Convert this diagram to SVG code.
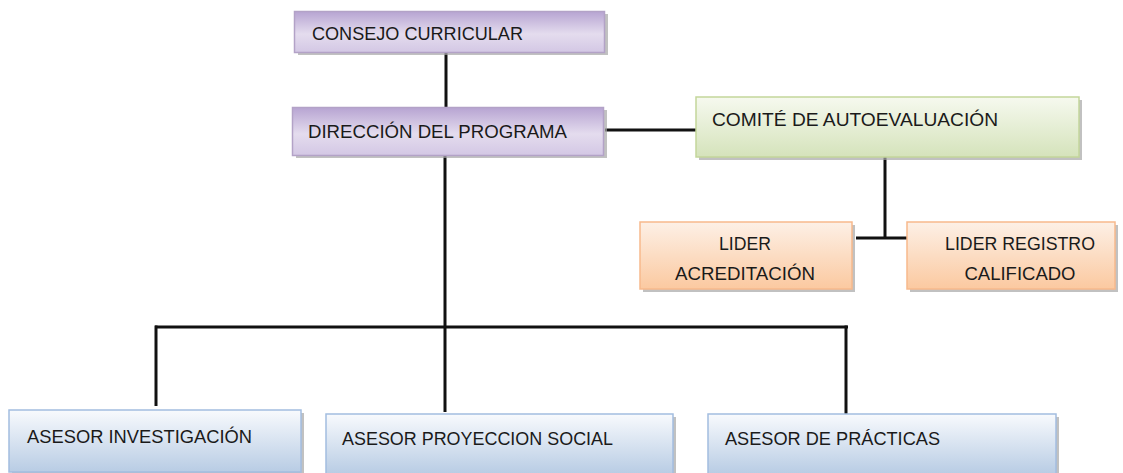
<svg xmlns="http://www.w3.org/2000/svg" width="1123" height="473" viewBox="0 0 1123 473">
<defs>
<linearGradient id="gP" x1="0" y1="0" x2="0" y2="1"><stop offset="0" stop-color="#b7a4d2"/><stop offset="0.55" stop-color="#e4dcee"/><stop offset="1" stop-color="#d3c7e4"/></linearGradient>
<linearGradient id="gG" x1="0" y1="0" x2="0" y2="1"><stop offset="0" stop-color="#f6f9ef"/><stop offset="1" stop-color="#d5e3bb"/></linearGradient>
<linearGradient id="gO" x1="0" y1="0" x2="0" y2="1"><stop offset="0" stop-color="#fdf0e6"/><stop offset="1" stop-color="#fbc9a0"/></linearGradient>
<linearGradient id="gB" x1="0" y1="0" x2="0" y2="1"><stop offset="0" stop-color="#f8fafd"/><stop offset="1" stop-color="#b8cce4"/></linearGradient>
</defs>
<style>
.sh{fill:#a6a6a6;opacity:0.7}
.p{fill:url(#gP);stroke:#b3a2c7;stroke-width:1.5}
.g{fill:url(#gG);stroke:#c3d69b;stroke-width:1.5}
.o{fill:url(#gO);stroke:#f7b98c;stroke-width:1.5}
.b{fill:url(#gB);stroke:#a3bde0;stroke-width:1.5}
text{font-family:"Liberation Sans",Arial,sans-serif;font-size:19px;fill:#1a1a1a}
.c{text-anchor:middle}
.ln{stroke:#111;stroke-width:3;fill:none}
</style>
<rect width="1123" height="473" fill="#ffffff"/>
<g id="connectors">
<line class="ln" x1="446" y1="52" x2="446" y2="107"/>
<line class="ln" x1="605" y1="130" x2="696" y2="130"/>
<line class="ln" x1="885" y1="157" x2="885" y2="238"/>
<line class="ln" x1="856" y1="238" x2="908" y2="238"/>
<line class="ln" x1="445" y1="155" x2="445" y2="412"/>
<line class="ln" x1="155" y1="327" x2="848" y2="327"/>
<line class="ln" x1="156" y1="325.5" x2="156" y2="406"/>
<line class="ln" x1="846" y1="325.5" x2="846" y2="414"/>
</g>
<g id="consejo">
<rect class="sh" x="298" y="14" width="310" height="41"/>
<rect class="p" x="294.5" y="11.5" width="310" height="41"/>
<text x="312" y="40" textLength="211" lengthAdjust="spacingAndGlyphs">CONSEJO CURRICULAR</text>
</g>
<g id="direccion">
<rect class="sh" x="296" y="110" width="311" height="48"/>
<rect class="p" x="292.5" y="107.5" width="311" height="48"/>
<text x="308" y="138" textLength="259" lengthAdjust="spacingAndGlyphs">DIRECCIÓN DEL PROGRAMA</text>
</g>
<g id="comite">
<rect class="sh" x="699" y="100" width="383" height="60"/>
<rect class="g" x="696" y="97" width="383" height="60"/>
<text x="712" y="126" textLength="286" lengthAdjust="spacingAndGlyphs">COMITÉ DE AUTOEVALUACIÓN</text>
</g>
<g id="lider-acreditacion">
<rect class="sh" x="643" y="225" width="212" height="67"/>
<rect class="o" x="640" y="222" width="212" height="67"/>
<text class="c" x="745" y="250" textLength="52" lengthAdjust="spacingAndGlyphs">LIDER</text>
<text class="c" x="745" y="280" textLength="140" lengthAdjust="spacingAndGlyphs">ACREDITACIÓN</text>
</g>
<g id="lider-registro">
<rect class="sh" x="910" y="225" width="208" height="67"/>
<rect class="o" x="907" y="222" width="208" height="67"/>
<text class="c" x="1020" y="250" textLength="150" lengthAdjust="spacingAndGlyphs">LIDER REGISTRO</text>
<text class="c" x="1020" y="280" textLength="111" lengthAdjust="spacingAndGlyphs">CALIFICADO</text>
</g>
<g id="asesor-investigacion">
<rect class="sh" x="12" y="413" width="292" height="62"/>
<rect class="b" x="9" y="410" width="292" height="62"/>
<text x="27" y="443" textLength="225" lengthAdjust="spacingAndGlyphs">ASESOR INVESTIGACIÓN</text>
</g>
<g id="asesor-proyeccion">
<rect class="sh" x="329" y="417" width="347" height="60"/>
<rect class="b" x="326" y="414" width="347" height="60"/>
<text x="342" y="445" textLength="271" lengthAdjust="spacingAndGlyphs">ASESOR PROYECCION SOCIAL</text>
</g>
<g id="asesor-practicas">
<rect class="sh" x="711" y="417" width="348" height="60"/>
<rect class="b" x="708" y="414" width="348" height="60"/>
<text x="725" y="445" textLength="215" lengthAdjust="spacingAndGlyphs">ASESOR DE PRÁCTICAS</text>
</g>
</svg>
